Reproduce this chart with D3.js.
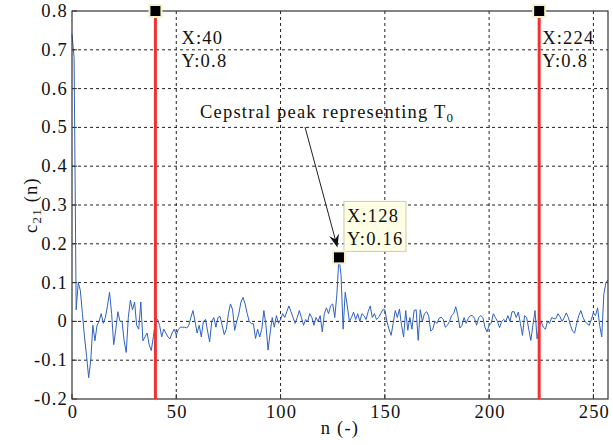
<!DOCTYPE html>
<html>
<head>
<meta charset="utf-8">
<script src="https://cdn.jsdelivr.net/npm/d3@7"></script>
<style>
  body { margin: 0; background: #fff; }
  text { font-family: "Liberation Serif", "Times New Roman", serif; fill: #111; letter-spacing: 1.2px; }
</style>
</head>
<body>
<div id="chart"></div>
<script>
// cepstrum c21(n), one value per n = 0..257
var cepstrum = [
  0.74, 0.68, 0.03, 0.10, 0.08, 0.02, -0.04, -0.09, -0.145, -0.10,
  -0.01, -0.05, -0.01, 0.0, 0.02, -0.005, 0.01, 0.04, 0.075, 0.02,
  -0.06, -0.02, 0.025, 0.0, 0.0, -0.05, -0.08, 0.01, 0.055, 0.03,
  0.05, -0.01, -0.02, 0.05, -0.05, -0.04, -0.03, -0.06, -0.075, -0.04,
  0.0, 0.005, -0.01, -0.04, -0.02, -0.03, -0.04, -0.045, -0.03, -0.02,
  -0.035, -0.02, -0.015, -0.015, -0.015, -0.017, -0.01, 0.01, 0.028, 0.0,
  -0.03, -0.01, -0.04, 0.0, 0.005, -0.025, -0.053, 0.0, 0.01, -0.015,
  0.01, 0.013, -0.01, -0.034, -0.02, 0.02, 0.045, 0.03, -0.023, 0.0,
  0.02, 0.05, 0.062, 0.045, 0.02, 0.0, -0.006, -0.006, -0.044, -0.02,
  -0.04, -0.02, 0.028, -0.01, -0.074, -0.03, 0.01, -0.015, 0.015, -0.005,
  0.005, 0.02, 0.01, 0.025, 0.04, 0.025, 0.01, -0.005, 0.01, 0.028,
  0.01, -0.01, 0.005, 0.0, 0.02, 0.01, -0.01, 0.01, 0.0, 0.015,
  -0.027, 0.02, 0.035, 0.02, 0.04, 0.045, 0.01, 0.07, 0.165, 0.12,
  -0.02, 0.075, 0.04, 0.0, 0.01, 0.024, 0.005, 0.02, 0.0, 0.02,
  0.015, 0.005, 0.025, 0.04, 0.01, 0.02, 0.005, 0.01, 0.02, 0.03,
  0.03, 0.0, -0.02, -0.036, -0.005, 0.028, 0.01, 0.032, -0.01, -0.04,
  0.028, -0.023, 0.01, -0.02, 0.028, 0.03, -0.049, 0.03, 0.0, 0.02,
  0.025, 0.015, -0.025, -0.02, 0.0, -0.005, 0.008, 0.011, 0.005, -0.015,
  -0.01, 0.0, 0.015, 0.02, 0.038, 0.015, -0.017, -0.01, 0.01, -0.005,
  0.008, 0.015, 0.015, 0.008, -0.01, 0.01, 0.015, 0.01, -0.015, -0.027,
  -0.01, -0.005, 0.02, 0.01, 0.0, -0.016, 0.0, 0.005, 0.0, 0.015,
  0.0, 0.025, 0.025, 0.01, 0.024, -0.005, -0.036, 0.015, 0.01, -0.02,
  -0.049, -0.01, 0.028, -0.045, -0.015, 0.0, -0.015, -0.02, 0.0, -0.005,
  0.01, 0.007, 0.007, 0.02, 0.012, 0.0, 0.01, 0.022, 0.01, -0.01,
  -0.025, -0.03, -0.005, 0.015, 0.028, 0.01, 0.0, -0.006, -0.01, 0.005,
  0.022, 0.015, 0.035, -0.01, -0.04, 0.07, 0.10, 0.107
];

var xTicks = [0, 50, 100, 150, 200, 250];
var yTicks = [-0.2, -0.1, 0, 0.1, 0.2, 0.3, 0.4, 0.5, 0.6, 0.7, 0.8];

// vertical cursor lines with their data tips
var cursorX = [40, 224];
var cursorY = [0.8, 0.8];
var peakN = 128;
var peakLabel = ["X:128", "Y:0.16"];

var width = 613, height = 445;
var margin = {top: 11, right: 5, bottom: 46, left: 72};
var fs = "18.5px", fsSub = "13px";

var x = d3.scaleLinear().domain([0, 257]).range([margin.left, width - margin.right]);
var y = d3.scaleLinear().domain([-0.2, 0.8]).range([height - margin.bottom, margin.top]);

var svg = d3.select("#chart").append("svg")
  .attr("width", width)
  .attr("height", height);

// grid
svg.append("g").selectAll("line")
  .data(xTicks.slice(1))
  .enter().append("line")
    .attr("x1", d => x(d)).attr("x2", d => x(d))
    .attr("y1", y(0.8)).attr("y2", y(-0.2))
    .attr("stroke", "#222").attr("stroke-width", 1)
    .attr("stroke-dasharray", "3,3");

svg.append("g").selectAll("line")
  .data(yTicks.slice(1, -1))
  .enter().append("line")
    .attr("x1", x(0)).attr("x2", x(257))
    .attr("y1", d => y(d)).attr("y2", d => y(d))
    .attr("stroke", "#222").attr("stroke-width", 1)
    .attr("stroke-dasharray", "3,3");

// signal
var line = d3.line()
  .x((d, i) => x(i))
  .y(d => y(d));

svg.append("path")
  .datum(cepstrum)
  .attr("fill", "none")
  .attr("stroke", "#2f62c0")
  .attr("stroke-width", 1)
  .attr("stroke-linejoin", "round")
  .attr("d", line);

// box
svg.append("rect")
  .attr("x", x(0)).attr("y", y(0.8))
  .attr("width", x(257) - x(0)).attr("height", y(-0.2) - y(0.8))
  .attr("fill", "none").attr("stroke", "#333").attr("stroke-width", 1.2);

// inner ticks
svg.append("g").selectAll("line")
  .data(xTicks)
  .enter().append("line")
    .attr("x1", d => x(d)).attr("x2", d => x(d))
    .attr("y1", y(-0.2)).attr("y2", y(-0.2) - 5)
    .attr("stroke", "#333");
svg.append("g").selectAll("line")
  .data(yTicks)
  .enter().append("line")
    .attr("x1", x(0)).attr("x2", x(0) + 5)
    .attr("y1", d => y(d)).attr("y2", d => y(d))
    .attr("stroke", "#333");

// tick labels
svg.append("g").selectAll("text")
  .data(xTicks)
  .enter().append("text")
    .attr("x", d => x(d) + 1)
    .attr("y", y(-0.2) + 19)
    .attr("text-anchor", "middle")
    .style("font-size", fs)
    .text(d => d);

svg.append("g").selectAll("text")
  .data(yTicks)
  .enter().append("text")
    .attr("x", x(0) - 4)
    .attr("y", d => y(d) + 6)
    .attr("text-anchor", "end")
    .style("font-size", fs)
    .text(d => d === 0 ? "0" : d.toFixed(1));

// axis labels
svg.append("text")
  .attr("x", (x(0) + x(257)) / 2)
  .attr("y", 434)
  .attr("text-anchor", "middle")
  .style("font-size", fs)
  .text("n (-)");

var yl = svg.append("text")
  .attr("transform", "translate(37," + ((y(0.8) + y(-0.2)) / 2) + ") rotate(-90)")
  .attr("text-anchor", "middle")
  .style("font-size", fs);
yl.append("tspan").text("c");
yl.append("tspan").attr("dy", 4).style("font-size", fsSub).text("21");
yl.append("tspan").attr("dy", -4).text(" (n)");

// red cursor lines
svg.append("g").selectAll("line")
  .data(cursorX)
  .enter().append("line")
    .attr("x1", d => x(d)).attr("x2", d => x(d))
    .attr("y1", y(0.8)).attr("y2", y(-0.2))
    .attr("stroke", "#f03232").attr("stroke-width", 3);

// data tip markers
function marker(px, py) {
  svg.append("rect")
    .attr("x", px - 6).attr("y", py - 6)
    .attr("width", 12).attr("height", 12)
    .attr("fill", "#000")
    .attr("stroke", "#f4f2c8").attr("stroke-width", 2);
}
cursorX.forEach((d, i) => marker(x(d), y(cursorY[i])));

// cursor tip texts
cursorX.forEach((d, i) => {
  var tx = i === 0 ? x(d) + 26 : x(d) + 3;
  svg.append("text").attr("x", tx).attr("y", 44)
    .style("font-size", fs).text("X:" + d);
  svg.append("text").attr("x", tx).attr("y", 67)
    .style("font-size", fs).text("Y:" + cursorY[i]);
});

// peak data tip
var px = x(peakN), py = y(cepstrum[peakN]);
svg.append("rect")
  .attr("x", px + 5).attr("y", py - 56)
  .attr("width", 62).attr("height", 50)
  .attr("fill", "#ffffe6").attr("stroke", "#c9c9b0").attr("stroke-width", 1);
svg.append("text").attr("x", px + 8).attr("y", py - 35)
  .style("font-size", fs).text(peakLabel[0]);
svg.append("text").attr("x", px + 8).attr("y", py - 12)
  .style("font-size", fs).text(peakLabel[1]);
marker(px, py);

// annotation
var ann = svg.append("text")
  .attr("x", 200).attr("y", 118)
  .style("font-size", fs);
ann.append("tspan").text("Cepstral peak representing T");
ann.append("tspan").attr("dy", 4).style("font-size", fsSub).text("0");

var ax0 = 305, ay0 = 127, ax1 = px - 1.5, ay1 = py - 10;
var ang = Math.atan2(ay1 - ay0, ax1 - ax0);
svg.append("line")
  .attr("x1", ax0).attr("y1", ay0)
  .attr("x2", ax1 - 8 * Math.cos(ang)).attr("y2", ay1 - 8 * Math.sin(ang))
  .attr("stroke", "#222").attr("stroke-width", 1);
var hl = 13, hw = 5;
var bx = ax1 - hl * Math.cos(ang), by = ay1 - hl * Math.sin(ang);
var nx = -Math.sin(ang), ny = Math.cos(ang);
var mx = ax1 - 0.65 * hl * Math.cos(ang), my = ay1 - 0.65 * hl * Math.sin(ang);
svg.append("path")
  .attr("d", "M" + ax1 + "," + ay1 +
    "L" + (bx + hw * nx) + "," + (by + hw * ny) +
    "L" + mx + "," + my +
    "L" + (bx - hw * nx) + "," + (by - hw * ny) + "Z")
  .attr("fill", "#111");
</script>
</body>
</html>
